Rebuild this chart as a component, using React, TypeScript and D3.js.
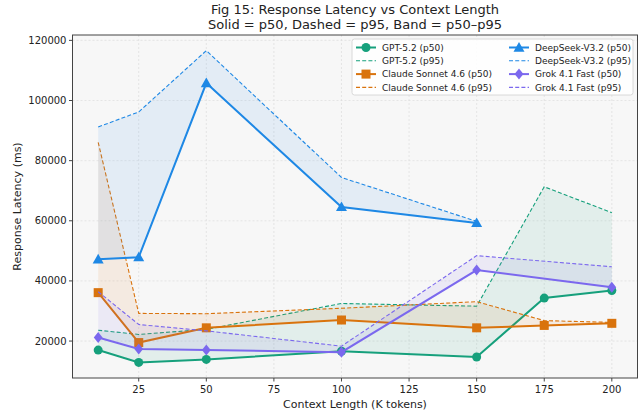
import React from "react";
import * as d3 from "d3";

const W = 643;
const H = 415;

const xAll = [10, 25, 50, 100, 150, 175, 200];
const xDeepSeek = [10, 25, 50, 100, 150];
const xGrok = [10, 25, 50, 100, 150, 200];

const gptP50 = [17000, 12900, 13900, 16600, 14700, 34300, 36800];
const gptP95 = [23600, 22200, 23900, 32500, 31600, 71300, 62700];
const claudeP50 = [36100, 19500, 24400, 27000, 24400, 25200, 25900];
const claudeP95 = [86100, 29200, 29100, 30900, 33100, 26800, 26200];
const deepseekP50 = [47200, 47900, 105800, 64600, 59300];
const deepseekP95 = [91200, 96200, 116600, 74400, 59800];
const grokP50 = [21200, 17400, 17000, 16300, 43600, 37900];
const grokP95 = [36400, 25500, 23400, 18300, 48400, 44700];

const xTicks = [25, 50, 75, 100, 125, 150, 175, 200];
const yTicks = [20000, 40000, 60000, 80000, 100000, 120000];

type Series = {
  name: string;
  color: string;
  marker: "circle" | "square" | "triangle" | "diamond";
  xs: number[];
  p50: number[];
  p95: number[];
};

const series: Series[] = [
  { name: "GPT-5.2", color: "#16a07c", marker: "circle", xs: xAll, p50: gptP50, p95: gptP95 },
  { name: "Claude Sonnet 4.6", color: "#d9730d", marker: "square", xs: xAll, p50: claudeP50, p95: claudeP95 },
  { name: "DeepSeek-V3.2", color: "#1e88e5", marker: "triangle", xs: xDeepSeek, p50: deepseekP50, p95: deepseekP95 },
  { name: "Grok 4.1 Fast", color: "#7b68ee", marker: "diamond", xs: xGrok, p50: grokP50, p95: grokP95 },
];

const FONT = "DejaVu Sans, sans-serif";

function Marker({ type, x, y, color }: { type: string; x: number; y: number; color: string }) {
  if (type === "circle") return <circle cx={x} cy={y} r={4.5} fill={color} />;
  if (type === "square") return <rect x={x - 4.5} y={y - 4.5} width={9} height={9} fill={color} />;
  if (type === "triangle") {
    const s = 5.5;
    return <path d={`M${x},${y - s}L${x + s},${y + s * 0.75}L${x - s},${y + s * 0.75}Z`} fill={color} />;
  }
  const s = 5.5;
  return <path d={`M${x},${y - s}L${x + s * 0.8},${y}L${x},${y + s}L${x - s * 0.8},${y}Z`} fill={color} />;
}

export default function App() {
  const L = 72.5, R = 637.5, T = 35, B = 378;
  const allX = [...xAll];
  const xMin = d3.min(allX)!, xMax = d3.max(allX)!;
  const xPad = (xMax - xMin) * 0.05;
  const x = d3.scaleLinear().domain([xMin - xPad, xMax + xPad]).range([L, R]);
  const allY = series.flatMap((s) => [...s.p50, ...s.p95]);
  const yMin = d3.min(allY)!, yMax = d3.max(allY)!;
  const yPad = (yMax - yMin) * 0.05;
  const y = d3.scaleLinear().domain([yMin - yPad, yMax + yPad]).range([B, T]);

  const line = d3.line<[number, number]>().x((d) => x(d[0])).y((d) => y(d[1]));
  const area = d3
    .area<[number, number, number]>()
    .x((d) => x(d[0]))
    .y0((d) => y(d[1]))
    .y1((d) => y(d[2]));

  const legendX = 352, legendY = 39;
  const rowH = 13.3;

  return (
    <svg width={W} height={H} style={{ position: "absolute", left: 0, top: 0, background: "#fff" }} fontFamily={FONT}>
      <rect x={0} y={0} width={W} height={H} fill="#fff" />
      <text x={(L + R) / 2} y={14} textAnchor="middle" fontSize={13} fill="#222">
        Fig 15: Response Latency vs Context Length
      </text>
      <text x={(L + R) / 2} y={29} textAnchor="middle" fontSize={13} fill="#222">
        Solid = p50, Dashed = p95, Band = p50–p95
      </text>
      <rect x={L} y={T} width={R - L} height={B - T} fill="#f7f7f7" />
      {xTicks.map((t) => (
        <line key={"gx" + t} x1={x(t)} x2={x(t)} y1={T} y2={B} stroke="#dcdcdc" strokeWidth={0.7} strokeDasharray="2,2" />
      ))}
      {yTicks.map((t) => (
        <line key={"gy" + t} x1={L} x2={R} y1={y(t)} y2={y(t)} stroke="#dcdcdc" strokeWidth={0.7} strokeDasharray="2,2" />
      ))}
      <defs>
        <clipPath id="plotclip">
          <rect x={L} y={T} width={R - L} height={B - T} />
        </clipPath>
      </defs>
      <g clipPath="url(#plotclip)">
        {series.map((s) => {
          const band = s.xs.map((xx, i) => [xx, s.p50[i], s.p95[i]] as [number, number, number]);
          const l50 = s.xs.map((xx, i) => [xx, s.p50[i]] as [number, number]);
          const l95 = s.xs.map((xx, i) => [xx, s.p95[i]] as [number, number]);
          return (
            <g key={s.name}>
              <path d={area(band)!} fill={s.color} fillOpacity={0.09} />
              <path d={line(l50)!} fill="none" stroke={s.color} strokeWidth={2} />
              <path d={line(l95)!} fill="none" stroke={s.color} strokeWidth={1.1} strokeDasharray="4,2.2" />
              {l50.map((d, i) => (
                <Marker key={i} type={s.marker} x={x(d[0])} y={y(d[1])} color={s.color} />
              ))}
            </g>
          );
        })}
      </g>
      <rect x={L} y={T} width={R - L} height={B - T} fill="none" stroke="#444" strokeWidth={1} />
      {yTicks.map((t) => (
        <g key={"ty" + t}>
          <line x1={L - 3.5} x2={L} y1={y(t)} y2={y(t)} stroke="#444" />
          <text x={L - 6} y={y(t)} dy="0.35em" textAnchor="end" fontSize={10} fill="#222">
            {t}
          </text>
        </g>
      ))}
      {xTicks.map((t) => (
        <g key={"tx" + t}>
          <line x1={x(t)} x2={x(t)} y1={B} y2={B + 3.5} stroke="#444" />
          <text x={x(t)} y={B + 15} textAnchor="middle" fontSize={10} fill="#222">
            {t}
          </text>
        </g>
      ))}
      <text x={(L + R) / 2} y={408} textAnchor="middle" fontSize={11} fill="#222">
        Context Length (K tokens)
      </text>
      <text transform={`translate(21,${(T + B) / 2}) rotate(-90)`} textAnchor="middle" fontSize={11} fill="#222">
        Response Latency (ms)
      </text>
      <rect x={legendX} y={legendY} width={281} height={56} rx={2.5} fill="#fff" fillOpacity={0.85} stroke="#d0d0d0" strokeWidth={0.8} />
      {series.map((s, si) => {
        const col = si < 2 ? 0 : 1;
        const baseRow = (si % 2) * 2;
        const hx = legendX + 4 + col * 153;
        const tx = hx + 26;
        const r0 = legendY + 8.5 + baseRow * rowH;
        const r1 = r0 + rowH;
        return (
          <g key={"lg" + s.name}>
            <line x1={hx} x2={hx + 20} y1={r0} y2={r0} stroke={s.color} strokeWidth={2} />
            <Marker type={s.marker} x={hx + 10} y={r0} color={s.color} />
            <text x={tx} y={r0} dy="0.35em" fontSize={9} fill="#222">
              {s.name} (p50)
            </text>
            <line x1={hx} x2={hx + 20} y1={r1} y2={r1} stroke={s.color} strokeWidth={1.1} strokeDasharray="4,2.2" />
            <text x={tx} y={r1} dy="0.35em" fontSize={9} fill="#222">
              {s.name} (p95)
            </text>
          </g>
        );
      })}
    </svg>
  );
}
